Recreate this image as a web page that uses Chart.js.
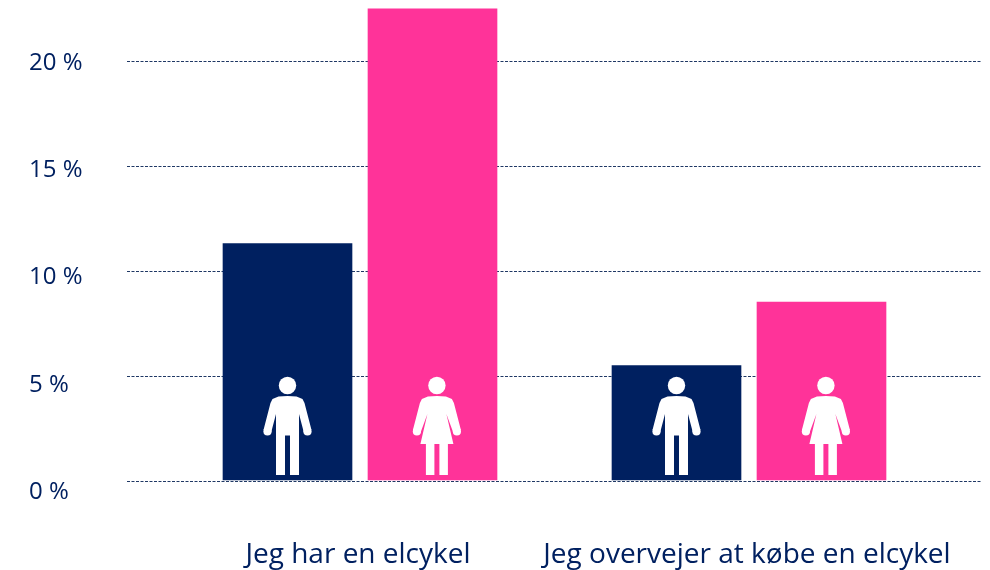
<!DOCTYPE html>
<html>
<head>
<meta charset="utf-8">
<style>
  html, body { margin: 0; padding: 0; background: #fff; }
  #wrap { width: 990px; height: 570px; }
</style>
<script src="https://cdn.jsdelivr.net/npm/chart.js@4/dist/chart.umd.min.js"></script>
</head>
<body>
<div id="wrap"><canvas id="elcykel" width="990" height="570"></canvas></div>
<script>
// data
var categories = ['Jeg har en elcykel', 'Jeg overvejer at købe en elcykel'];
var mend = [11.3, 5.5];
var kvinder = [22.48, 8.52];
var tickValues = [0, 5, 10, 15, 20];

var navy = '#002060';
var pink = '#FF3399';
var fontName = 'Open Sans';

// white person icon, right half outline in px from the icon centre, y up from the feet
var manHalf = [[0, 79], [9, 78.5], [15, 76], [17, 72], [24, 45], [16.5, 42], [11.5, 61], [11.5, 0], [2.5, 0], [2.5, 39.5]];
var womanHalf = [[0, 79], [9, 78.5], [15, 76], [17, 72], [24, 45], [16.5, 42], [9.5, 61], [16.5, 31], [11, 31], [11, 0], [2.5, 0], [2.5, 31]];

function drawPerson(ctx, cx, zeroY, half) {
  var bottom = zeroY - 6;
  ctx.save();
  ctx.fillStyle = '#fff';
  ctx.beginPath();
  ctx.arc(cx, bottom - 89.5, 8.7, 0, Math.PI * 2);
  ctx.fill();

  ctx.beginPath();
  half.forEach(function (pt, i) {
    if (i === 0) ctx.moveTo(cx + pt[0], bottom - pt[1]); else ctx.lineTo(cx + pt[0], bottom - pt[1]);
  });
  half.slice().reverse().forEach(function (pt) {
    ctx.lineTo(cx - pt[0], bottom - pt[1]);
  });
  ctx.closePath();
  ctx.fill();

  // rounded hands
  [1, -1].forEach(function (side) {
    ctx.beginPath();
    ctx.arc(cx + side * 20, bottom - 43.5, 4.1, 0, Math.PI * 2);
    ctx.fill();
  });
  ctx.restore();
}

// grid lines run wider than the plot area, so they are drawn here from the y scale
var wideGrid = {
  id: 'wideGrid',
  beforeDatasetsDraw: function (chart) {
    var ctx = chart.ctx;
    var y = chart.scales.y;
    ctx.save();
    ctx.strokeStyle = '#1F3864';
    ctx.lineWidth = 1;
    ctx.setLineDash([3, 1.5]);
    tickValues.forEach(function (v) {
      var py = Math.round(y.getPixelForValue(v)) + 0.5;
      ctx.beginPath();
      ctx.moveTo(127, py);
      ctx.lineTo(981, py);
      ctx.stroke();
    });
    ctx.restore();
  }
};

var personIcons = {
  id: 'personIcons',
  afterDatasetsDraw: function (chart) {
    var zero = chart.scales.y.getPixelForValue(0);
    chart.data.datasets.forEach(function (ds, i) {
      chart.getDatasetMeta(i).data.forEach(function (bar) {
        // the woman sits a little right of her bar in the picture
        drawPerson(chart.ctx, i === 1 ? bar.x + 4.4 : bar.x, zero, i === 1 ? womanHalf : manHalf);
      });
    });
  }
};

new Chart(document.getElementById('elcykel').getContext('2d'), {
  type: 'bar',
  data: {
    labels: categories,
    datasets: [
      { label: 'Mænd', data: mend, backgroundColor: navy, barThickness: 145, maxBarThickness: 129, base: 0.05 },
      { label: 'Kvinder', data: kvinder, backgroundColor: pink, barThickness: 145, maxBarThickness: 129, base: 0.05 }
    ]
  },
  plugins: [wideGrid, personIcons],
  options: {
    responsive: false,
    animation: false,
    layout: { padding: { left: 29, right: 46.5, top: 0, bottom: 0 } },
    plugins: { legend: { display: false }, tooltip: { enabled: false } },
    scales: {
      x: {
        grid: { display: false },
        border: { display: false },
        ticks: {
          color: navy,
          font: { family: fontName, size: 28 },
          padding: 30,
          labelOffset: -2,
          maxRotation: 0,
          autoSkip: false
        },
        afterFit: function (s) { s.height = 70; s.paddingLeft = 0; s.paddingRight = 0; }
      },
      // bars and grid lines
      y: {
        display: false,
        min: -19 / 21,
        max: 481 / 21
      },
      // tick labels sit on a slightly wider spacing than the grid in the picture
      yLabels: {
        position: 'left',
        min: -0.373,
        max: 22.94,
        grid: { display: false },
        border: { display: false },
        ticks: {
          stepSize: 5,
          includeBounds: false,
          color: navy,
          crossAlign: 'far',
          font: { family: fontName, size: 24 },
          padding: 0,
          callback: function (v) { return tickValues.indexOf(v) >= 0 ? v + ' %' : ''; }
        },
        afterFit: function (s) { s.width = 136.5; s.paddingTop = 0; s.paddingBottom = 0; }
      }
    }
  }
});
</script>
</body>
</html>
